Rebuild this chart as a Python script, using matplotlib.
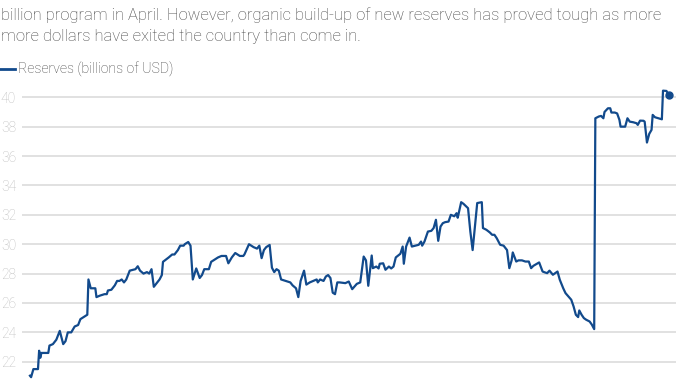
import matplotlib.pyplot as plt
import numpy as np

# day offsets from early Dec 2023, reserves in billions of USD
days = [0, 1, 3, 7, 8, 9, 10, 16, 17, 20, 23, 26, 29, 31, 33, 36, 39, 42, 44, 48,
        50, 51, 53, 57, 58, 61, 65, 67, 68, 71, 74, 76, 78, 80, 82, 84, 87, 92, 94, 96,
        99, 102, 104, 106, 108, 110, 113, 115, 116, 121, 124, 126, 129, 131, 134, 135, 138, 140, 142, 145,
        148, 150, 152, 156, 158, 162, 164, 167, 171, 173, 176, 179, 181, 183, 186, 187, 191, 195, 198, 200,
        202, 204, 206, 209, 211, 213, 215, 217, 219, 223, 227, 229, 232, 234, 236, 239, 241, 244, 247, 250,
        251, 253, 256, 258, 260, 262, 264, 266, 268, 270, 275, 278, 281, 285, 288, 291, 293, 295, 298, 299,
        302, 304, 305, 308, 310, 313, 315, 317, 319, 323, 325, 326, 328, 331, 333, 336, 339, 341, 342, 344,
        347, 350, 352, 354, 356, 358, 360, 362, 365, 367, 370, 372, 373, 376, 378, 382, 384, 386, 388, 390,
        394, 395, 398, 401, 403, 405, 407, 410, 413, 416, 418, 420, 421, 424, 426, 429, 432, 435, 437, 439,
        442, 444, 447, 449, 451, 453, 456, 458, 460, 462, 465, 467, 469, 472, 474, 476, 478, 479, 481, 483,
        485, 488, 490, 492, 493, 496, 498, 500, 501, 504, 506, 507, 510, 512, 514, 515, 517, 519, 521, 523,
        526, 529, 530, 532, 535, 536, 538, 540, 542, 543, 545, 548, 551, 552, 555, 557]
reserves = [21.05, 20.95, 21.5, 21.5, 22.75, 22.27, 22.6, 22.6, 23.1, 23.2, 23.5, 24.1, 23.2, 23.4, 24.0, 24.0, 24.4, 24.5, 24.9, 25.1,
            25.2, 27.6, 27.0, 27.0, 26.4, 26.5, 26.6, 26.6, 26.85, 26.9, 27.2, 27.5, 27.5, 27.6, 27.4, 27.6, 28.2, 28.3, 28.5, 28.2,
            28.0, 28.1, 28.0, 28.3, 27.1, 27.3, 27.6, 27.9, 28.8, 29.1, 29.3, 29.3, 29.6, 29.9, 29.9, 30.0, 30.15, 29.9, 27.6, 28.35,
            27.7, 27.9, 28.3, 28.3, 28.8, 29.0, 29.1, 29.2, 29.2, 28.7, 29.1, 29.4, 29.3, 29.2, 29.2, 29.3, 30.0, 29.8, 29.7, 29.9,
            29.05, 29.6, 29.8, 29.95, 28.4, 28.1, 28.3, 28.2, 27.6, 27.5, 27.4, 27.2, 27.0, 26.4, 27.5, 28.2, 27.25, 27.4, 27.5, 27.6,
            27.4, 27.6, 27.5, 27.8, 27.9, 27.7, 26.7, 26.6, 27.4, 27.4, 27.35, 27.46, 26.94, 27.3, 27.4, 29.16, 28.9, 27.17, 29.23, 28.37,
            28.48, 28.35, 28.67, 28.7, 28.26, 28.48, 28.35, 28.48, 29.1, 29.35, 29.84, 28.67, 29.84, 30.45, 29.84, 29.9, 29.96, 30.18, 29.9, 30.18,
            30.86, 30.91, 31.1, 31.66, 30.23, 31.2, 31.43, 31.5, 31.54, 32.0, 31.9, 32.11, 31.8, 32.86, 32.75, 32.45, 30.86, 29.6, 31.2, 32.8,
            32.86, 31.1, 30.98, 30.8, 30.64, 30.64, 30.41, 29.96, 29.9, 29.6, 28.37, 28.9, 29.44, 28.82, 28.9, 28.9, 28.82, 28.82, 28.37, 28.53,
            28.67, 28.76, 28.14, 28.08, 28.03, 28.2, 27.92, 28.03, 28.14, 27.58, 27.0, 26.67, 26.49, 26.22, 25.77, 25.2, 25.04, 25.49, 25.2, 24.97,
            24.86, 24.74, 24.52, 24.22, 38.57, 38.69, 38.73, 38.57, 39.0, 39.25, 39.25, 38.96, 38.96, 38.9, 38.46, 38.0, 38.0, 38.0, 38.57, 38.34,
            38.3, 38.23, 38.12, 38.41, 38.4, 38.34, 36.92, 37.51, 37.78, 38.8, 38.64, 38.57, 38.5, 40.45, 40.43, 40.16]
yticks = [22, 24, 26, 28, 30, 32, 34, 36, 38, 40]

intro = ("billion program in April. However, organic build-up of new reserves has proved tough as more\n"
         "more dollars have exited the country than come in.")
legend_label = "Reserves (billions of USD)"

blue = "#124a8c"
plt.rcParams["font.family"] = ["Roboto", "DejaVu Sans"]

fig = plt.figure(figsize=(6.78, 3.81), dpi=100)
ax = fig.add_axes([0.032, 0.0, 0.965, 0.764])

ax.plot(days, reserves, color=blue, lw=1.6, solid_joinstyle="round", clip_on=False)
ax.plot(days[-1], reserves[-1], "o", color=blue, ms=5, clip_on=False)

ax.set_xlim(-7.2, 563.3)
ax.set_ylim(20.69, 40.5)
ax.set_yticks(yticks)
ax.set_xticks([])
ax.grid(axis="y", color="#dcdcdc", lw=1.2)
ax.set_axisbelow(True)
ax.tick_params(axis="y", length=0, pad=4, labelsize=10, labelcolor="#bdbdbd")
for s in ax.spines.values():
    s.set_visible(False)
for lab in ax.get_yticklabels():
    lab.set_fontweight("light")

fig.text(0.002, 0.981, intro, ha="left", va="top", fontsize=12, color="#444444",
         fontweight="light", linespacing=1.5)
fig.lines.append(plt.Line2D([0.0, 0.022], [0.818, 0.818], transform=fig.transFigure,
                            color=blue, lw=2))
fig.text(0.027, 0.818, legend_label, ha="left", va="center", fontsize=10.2,
         color="#444444", fontweight="light")

fig.savefig("out.png", dpi=100)
